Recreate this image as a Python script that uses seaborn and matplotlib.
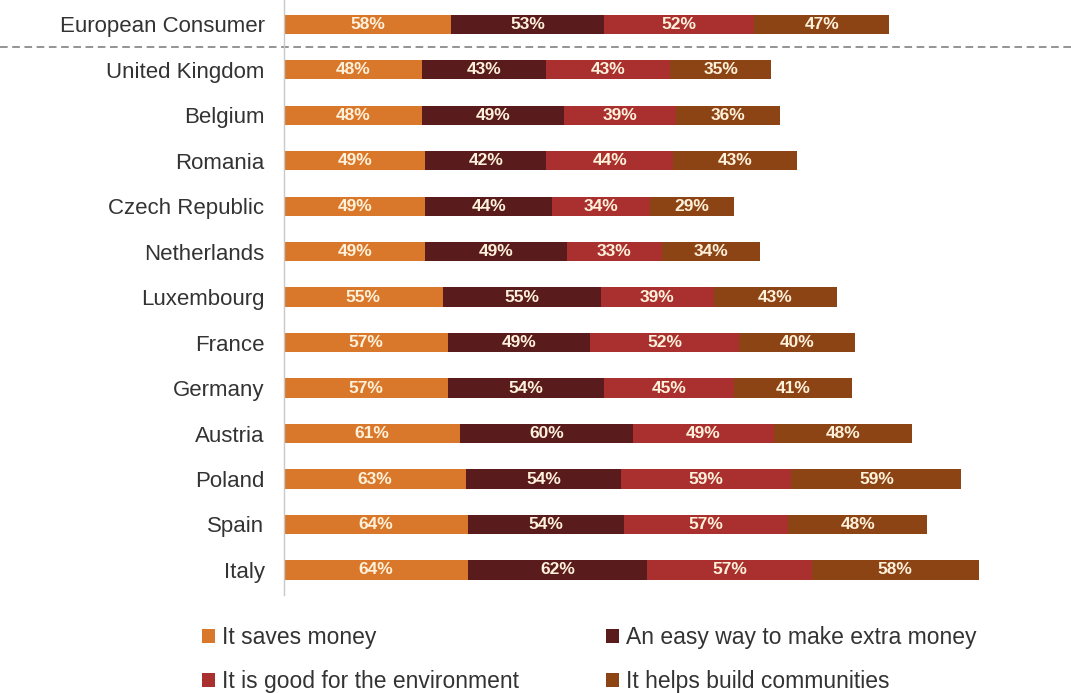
import matplotlib
matplotlib.use("Agg")
import matplotlib.pyplot as plt
import seaborn as sns
import pandas as pd
import numpy as np
from matplotlib.patches import Patch

countries = ["European Consumer", "United Kingdom", "Belgium", "Romania", "Czech Republic",
             "Netherlands", "Luxembourg", "France", "Germany", "Austria", "Poland", "Spain", "Italy"]
saves_money = [58, 48, 48, 49, 49, 49, 55, 57, 57, 61, 63, 64, 64]
extra_money = [53, 43, 49, 42, 44, 49, 55, 49, 54, 60, 54, 54, 62]
environment = [52, 43, 39, 44, 34, 33, 39, 52, 45, 49, 59, 57, 57]
communities = [47, 35, 36, 43, 29, 34, 43, 40, 41, 48, 59, 48, 58]
series_names = ["It saves money", "An easy way to make extra money",
                "It is good for the environment", "It helps build communities"]
colors = ["#D9782B", "#5A1B1C", "#AA3030", "#8C4415"]

sns.set_theme(style="white")
plt.rcParams['font.family'] = ['Liberation Sans', 'DejaVu Sans']

series = [saves_money, extra_money, environment, communities]
cum = np.zeros(len(countries))
cums = []
for s in series:
    cum = cum + np.array(s)
    cums.append(cum.copy())

fig = plt.figure(figsize=(10.71, 6.93), dpi=100)
ax = fig.add_axes([284/1071, (693-595)/693, 1-284/1071, 595/693])

# draw cumulative totals from longest to shortest so segments stack
for i in range(3, -1, -1):
    d = pd.DataFrame({"country": countries, "value": cums[i]})
    sns.barplot(data=d, y="country", x="value", order=countries, orient="h",
                color=colors[i], width=0.42, ax=ax, saturation=1, edgecolor="none")

# labels
for j, c in enumerate(countries):
    left = 0
    for i, s in enumerate(series):
        ax.text(left + s[j] / 2, j, f"{s[j]}%", ha="center", va="center",
                color="#FFF1DA", fontsize=12.5, fontweight="bold")
        left += s[j]

ax.set_xlim(0, 273)
ax.set_ylim(12.55, -0.53)
ax.set_xlabel("")
ax.set_ylabel("")
ax.set_xticks([])
ax.tick_params(axis="y", length=0, pad=14, labelsize=16, labelcolor="#333333")
for sp in ["top", "right", "bottom"]:
    ax.spines[sp].set_visible(False)
ax.spines["left"].set_color("#C8C8C8")
ax.spines["left"].set_linewidth(1)

# dashed separator
ax.plot([-284/787, 1.0], [0.5, 0.5], transform=ax.get_yaxis_transform(),
        color="#777777", linestyle=(0, (5, 3)), linewidth=1.1, clip_on=False)

handles = [Patch(facecolor=colors[k], edgecolor="none") for k in [0, 2, 1, 3]]
labels = [series_names[k] for k in [0, 2, 1, 3]]
fig.legend(handles, labels, ncol=2, loc="upper left",
           bbox_to_anchor=(202/1071, 1 - 626/693), frameon=False,
           borderpad=0, borderaxespad=0,
           fontsize=16.5, handlelength=0.57, handleheight=0.57, handletextpad=0.3,
           columnspacing=3.8, labelspacing=0.92, labelcolor="#333333")

fig.savefig("out.png", dpi=100)
